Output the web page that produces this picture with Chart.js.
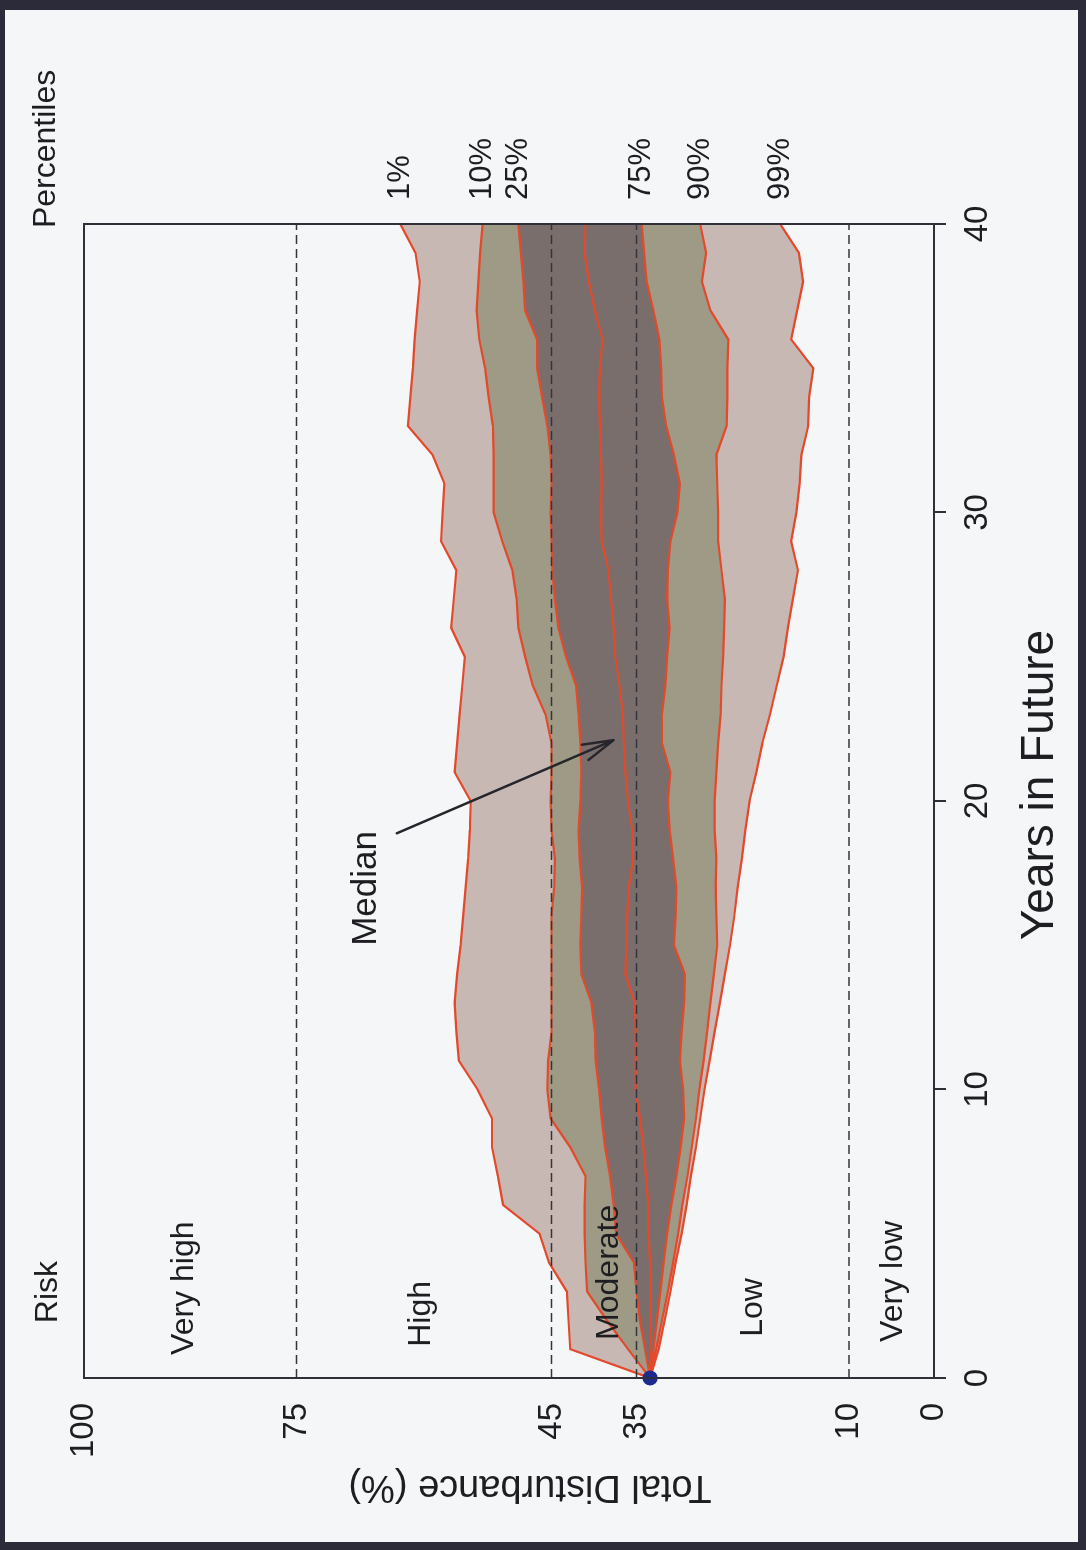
<!DOCTYPE html>
<html>
<head>
<meta charset="utf-8">
<title>Total Disturbance percentiles</title>
<script src="https://cdn.jsdelivr.net/npm/chart.js@4.4.1/dist/chart.umd.min.js"></script>
<style>
  html, body { margin: 0; padding: 0; }
  body { width: 1086px; height: 1550px; background: #2c2b3a; position: relative; overflow: hidden; }
  #sheet { position: absolute; left: 5px; top: 10px; width: 1073px; height: 1532px; background: #f5f6f8; }
  /* the figure is printed sideways, so the chart is drawn upright and turned */
  #wrap { position: absolute; left: 0; top: 0; width: 1550px; height: 1086px;
          transform-origin: 0 0; transform: translate(0, 1550px) rotate(-90deg); }
</style>
</head>
<body>
<div id="sheet"></div>
<div id="wrap"><canvas id="fan-chart" width="1550" height="1086"></canvas></div>
<script>
// x axis: years in future
const years = [0, 1, 2, 3, 4, 5, 6, 7, 8, 9, 10, 11, 12, 13, 14, 15, 16, 17, 18, 19, 20,
               21, 22, 23, 24, 25, 26, 27, 28, 29, 30, 31, 32, 33, 34, 35, 36, 37, 38, 39, 40];
const yearTicks = [0, 10, 20, 30, 40];
const disturbanceTicks = [0, 10, 35, 45, 75, 100];

// risk classes (dashed boundaries)
const riskLines = [75, 45, 35, 10];
const riskNames = ['Very high', 'High', 'Moderate', 'Low', 'Very low'];

// current state
const startValue = 33.4;

// percentiles of total disturbance (%)
const p1  = [33.4, 42.8, 43.0, 43.2, 45.3, 46.4, 50.7, 51.3, 52.0, 52.0, 53.7, 55.9, 56.2, 56.4, 56.1, 55.7, 55.4, 55.1, 54.8, 54.6, 54.5,
             56.4, 56.1, 55.8, 55.5, 55.2, 56.8, 56.5, 56.2, 58.0, 57.8, 57.6, 59.0, 61.9, 61.6, 61.3, 61.1, 60.8, 60.5, 61.0, 62.8];
const p10 = [33.4, 36.0, 38.5, 40.8, 41.0, 41.1, 41.1, 41.0, 42.8, 45.1, 45.5, 45.4, 45.0, 45.0, 45.0, 45.0, 45.0, 44.7, 44.6, 45.0, 45.1,
             45.0, 45.0, 45.7, 47.2, 48.1, 48.9, 49.1, 49.6, 50.8, 51.8, 51.8, 51.8, 51.9, 52.4, 52.8, 53.5, 53.8, 53.6, 53.4, 53.1];
const p25 = [33.4, 34.0, 34.6, 35.0, 35.3, 37.4, 37.7, 38.1, 38.7, 39.1, 39.4, 39.8, 39.9, 40.3, 41.5, 41.6, 41.5, 41.4, 41.7, 41.8, 41.6,
             41.5, 41.6, 41.8, 42.1, 43.3, 44.2, 44.6, 44.9, 45.0, 45.1, 45.0, 45.1, 45.5, 46.1, 46.7, 46.7, 48.1, 48.3, 48.6, 48.9];
const p50 = [33.4, 33.3, 33.3, 33.3, 33.4, 33.6, 33.6, 33.9, 34.2, 34.6, 35.1, 35.1, 35.1, 35.2, 36.3, 36.2, 36.1, 35.9, 35.4, 35.5, 36.0,
             36.3, 36.5, 36.6, 37.0, 37.5, 37.7, 38.0, 38.3, 39.1, 39.2, 39.1, 39.2, 39.3, 39.4, 39.3, 39.0, 39.9, 40.6, 41.1, 41.0];
const p75 = [33.4, 33.0, 32.6, 32.2, 31.8, 31.4, 30.9, 30.3, 29.8, 29.4, 29.5, 29.9, 29.7, 29.4, 29.3, 30.6, 30.4, 30.3, 30.7, 31.1, 31.3,
             31.0, 32.0, 32.0, 31.6, 31.4, 31.1, 31.4, 31.3, 31.0, 30.2, 29.9, 30.6, 31.5, 32.0, 32.1, 32.3, 33.0, 33.8, 34.1, 34.4];
const p90 = [33.4, 32.7, 32.0, 31.3, 30.7, 30.1, 29.6, 29.0, 28.5, 28.0, 27.6, 27.1, 26.7, 26.3, 25.9, 25.5, 25.6, 25.7, 25.6, 25.8, 25.8,
             25.6, 25.4, 25.1, 25.0, 24.8, 24.7, 24.6, 25.0, 25.4, 25.4, 25.5, 25.6, 24.4, 24.3, 24.3, 24.2, 26.3, 27.3, 26.8, 27.5];
const p99 = [33.4, 32.4, 31.7, 31.0, 30.4, 29.7, 29.1, 28.6, 28.0, 27.5, 27.0, 26.4, 25.8, 25.2, 24.6, 24.0, 23.5, 23.1, 22.6, 22.2, 21.7,
             20.9, 20.2, 19.3, 18.5, 17.7, 17.2, 16.6, 16.0, 16.8, 16.2, 15.8, 15.6, 14.8, 14.7, 14.2, 16.8, 16.1, 15.4, 15.9, 18.1];

const series = [p1, p10, p25, p50, p75, p90, p99];
const seriesNames = ['1%', '10%', '25%', 'Median', '75%', '90%', '99%'];

const FONT = '"Liberation Sans", Arial, Helvetica, sans-serif';
const INK = '#1d1d22';
const LIGHT = '#c7b8b3';
const OLIVE = '#9e9a85';
const DARK = '#7a6e6c';
const bandColors = [null, LIGHT, OLIVE, DARK, DARK, OLIVE, LIGHT];

function toPoints(values) {
    return values.map(function (v, i) { return { x: years[i], y: v }; });
}

// where the hand placed labels sit, in axis units (year, %)
const riskLabelAt = [[0.80, 88.2], [1.08, 60.3], [1.32, 38.2], [1.43, 21.3], [1.25, 4.8]];
const medianLabelAt = [16.97, 66.8];
const arrowFrom = [18.88, 63.2];
const arrowTo = [22.11, 37.7];

function put(ctx, str, px, py, size, align) {
    ctx.font = size + 'px ' + FONT;
    ctx.textAlign = align || 'left';
    ctx.textBaseline = 'middle';
    ctx.fillText(str, px, py);
}

const fanDecor = {
    id: 'fanDecor',
    afterDatasetsDraw(chart) {
        const { ctx, chartArea: a, scales: { x, y } } = chart;
        ctx.save();
        // risk class boundaries
        ctx.strokeStyle = '#34343c';
        ctx.lineWidth = 1.6;
        ctx.setLineDash([9, 5]);
        riskLines.forEach(function (v) {
            const py = y.getPixelForValue(v);
            ctx.beginPath();
            ctx.moveTo(a.left, py);
            ctx.lineTo(a.right, py);
            ctx.stroke();
        });
        ctx.setLineDash([]);
        // frame round the plot
        ctx.lineWidth = 2;
        ctx.strokeStyle = '#2f2f3a';
        ctx.strokeRect(a.left, a.top, a.right - a.left, a.bottom - a.top);
        ctx.restore();
    },
    afterDraw(chart) {
        const { ctx, chartArea: a, scales: { x, y } } = chart;
        ctx.save();
        ctx.fillStyle = INK;

        // risk classes
        put(ctx, 'Risk', x.getPixelForValue(1.90), y.getPixelForValue(104.2), 32);
        riskNames.forEach(function (name, i) {
            put(ctx, name, x.getPixelForValue(riskLabelAt[i][0]), y.getPixelForValue(riskLabelAt[i][1]), 32);
        });

        // percentile names at the end of each band edge
        put(ctx, 'Percentiles', x.getPixelForValue(39.86), y.getPixelForValue(104.4), 32);
        series.forEach(function (s, i) {
            if (seriesNames[i] === 'Median') return;
            put(ctx, seriesNames[i], x.getPixelForValue(40.83), y.getPixelForValue(s[s.length - 1]), 31);
        });

        // median pointer
        put(ctx, 'Median', x.getPixelForValue(medianLabelAt[0]), y.getPixelForValue(medianLabelAt[1]), 35, 'center');
        const x0 = x.getPixelForValue(arrowFrom[0]), y0 = y.getPixelForValue(arrowFrom[1]);
        const x1 = x.getPixelForValue(arrowTo[0]), y1 = y.getPixelForValue(arrowTo[1]);
        const ang = Math.atan2(y1 - y0, x1 - x0);
        ctx.strokeStyle = '#26262c';
        ctx.lineWidth = 2.5;
        ctx.lineCap = 'round';
        ctx.beginPath();
        ctx.moveTo(x0, y0);
        ctx.lineTo(x1, y1);
        [-1, 1].forEach(function (s) {
            const b = ang + Math.PI + s * 15 * Math.PI / 180;
            ctx.moveTo(x1, y1);
            ctx.lineTo(x1 + 32 * Math.cos(b), y1 + 32 * Math.sin(b));
        });
        ctx.stroke();

        // axis titles
        ctx.font = '46px ' + FONT;
        ctx.textAlign = 'center';
        ctx.textBaseline = 'alphabetic';
        ctx.fillText('Years in Future', (a.left + a.right) / 2 + 16, a.bottom + 119);

        ctx.translate(a.left - 98, (a.top + a.bottom) / 2 + 21);
        ctx.rotate(-Math.PI / 2);
        ctx.font = '38px ' + FONT;
        ctx.fillText('Total Disturbance (%)', 0, 0);
        ctx.restore();
    }
};

const datasets = series.map(function (s, i) {
    return {
        label: seriesNames[i],
        data: toPoints(s),
        borderColor: '#e3492b',
        borderWidth: 2.2,
        backgroundColor: bandColors[i] || 'transparent',
        fill: i === 0 ? false : '-1',
        pointRadius: 0,
        tension: 0
    };
});
datasets.push({
    type: 'scatter',
    label: 'Start',
    data: [{ x: years[0], y: startValue }],
    pointRadius: 7.5,
    pointBackgroundColor: '#1e2a8e',
    pointBorderWidth: 0,
    clip: false,
    order: -1
});

const ctx = document.getElementById('fan-chart').getContext('2d');
const fanChart = new Chart(ctx, {
    type: 'line',
    data: { datasets: datasets },
    options: {
        responsive: false,
        animation: false,
        devicePixelRatio: 1,
        layout: { padding: { top: 84, right: 224, bottom: 0, left: 0 } },
        plugins: { legend: { display: false }, tooltip: { enabled: false } },
        scales: {
            x: {
                type: 'linear',
                min: 0,
                max: 40,
                afterBuildTicks: function (scale) { scale.ticks = yearTicks.map(function (v) { return { value: v }; }); },
                afterFit: function (scale) { scale.height = 152; },
                grid: { drawOnChartArea: false, drawTicks: true, tickLength: 12, color: '#2f2f3a', lineWidth: 2 },
                border: { display: true, color: '#2f2f3a', width: 2 },
                ticks: { color: INK, font: { size: 33, family: FONT }, padding: 12, maxRotation: 0 }
            },
            y: {
                type: 'linear',
                min: 0,
                max: 100,
                afterBuildTicks: function (scale) { scale.ticks = disturbanceTicks.map(function (v) { return { value: v }; }); },
                afterFit: function (scale) { scale.width = 172; },
                grid: { display: false, drawTicks: false },
                border: { display: true, color: '#2f2f3a', width: 2 },
                ticks: { color: INK, font: { size: 33, family: FONT }, padding: 25 }
            }
        }
    },
    plugins: [fanDecor]
});
</script>
</body>
</html>
